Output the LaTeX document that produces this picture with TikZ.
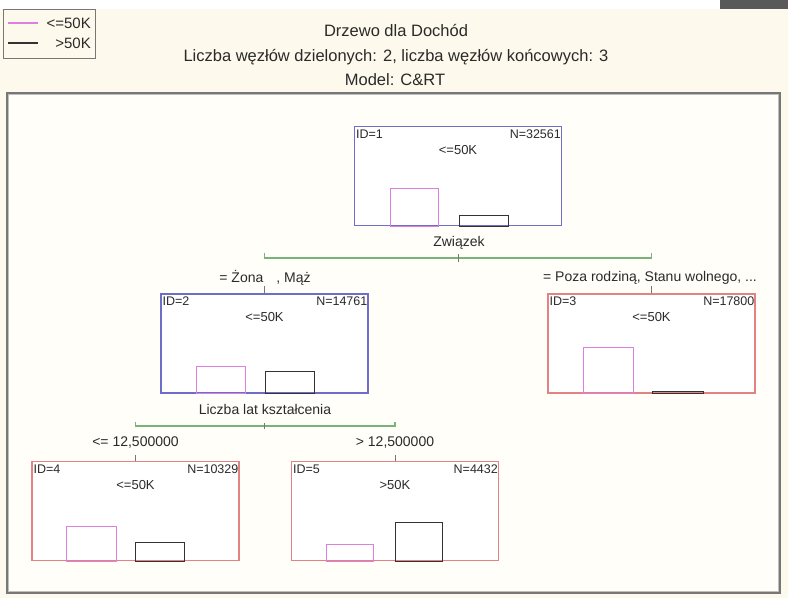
\documentclass[tikz,border=0pt]{standalone}
\usepackage{fontspec}
\setmainfont{Liberation Sans}
\definecolor{paper}{HTML}{FDF9EC}
\definecolor{panel}{HTML}{FFFEF9}
\definecolor{nodeblue}{HTML}{6E6EC8}
\definecolor{nodered}{HTML}{E38282}
\definecolor{barpink}{HTML}{DD80DD}
\definecolor{barblack}{HTML}{333333}
\definecolor{splitgreen}{HTML}{78B47A}
\definecolor{framegrey}{HTML}{777777}
\definecolor{inkgrey}{HTML}{2A2A2A}
\begin{document}
\begin{tikzpicture}[x=1pt,y=-1pt,
  every node/.style={text=inkgrey, inner sep=0pt},
  treenode/.style={draw, line width=1.1pt, fill=white, minimum width=207pt,
    minimum height=99pt, inner sep=0pt},
  splitnode/.style={treenode, draw=nodeblue},
  leafnode/.style={treenode, draw=nodered},
  idtext/.style={font=\fontsize{12.5}{14}\selectfont, anchor=west},
  ntext/.style={font=\fontsize{12.5}{14}\selectfont, anchor=east},
  classtext/.style={font=\fontsize{13}{15}\selectfont},
  lbl/.style={font=\fontsize{14}{16}\selectfont},
  legendtext/.style={font=\fontsize{15}{17}\selectfont, anchor=east},
  titletext/.style={font=\fontsize{16.5}{19}\selectfont},
  pinkbar/.style={draw=barpink, line width=1pt},
  blackbar/.style={draw=barblack, line width=1pt},
  bracket/.style={draw=splitgreen, line width=1.1pt},
  tick/.style={draw=framegrey, line width=0.8pt}]

% page, top strip and panel
\useasboundingbox (0,0) rectangle (788,598);
\fill[paper] (0,0) rectangle (788,598);
\fill[white] (0,0) rectangle (720,9);
\fill[black!65] (720,0) rectangle (788,9);
\fill[panel] (7,93) rectangle (780,593);
\draw[framegrey, line width=1.6pt] (7,93) rectangle (780,593);
\draw[black!25, line width=0.8pt] (8.6,94.6) rectangle (778.4,591.4);

% legend
\node[draw=framegrey, line width=1.2pt, minimum width=92pt, minimum height=49pt,
  anchor=north west] (legend) at (3,9) {};
\coordinate (lg1) at (8,23);
\coordinate (lg2) at (8,43);
\draw[barpink, line width=1.2pt] (lg1) -- ++(30,0);
\draw[barblack, line width=1.2pt] (lg2) -- ++(30,0);
\node[legendtext] (lgt1) at (91,23) {<=50K};
\node[legendtext] (lgt2) at (91,43) {>50K};

% titles
\node[titletext] (t1) at (396,31) {Drzewo dla Dochód};
\node[titletext] (t2) at (396,57) {Liczba węzłów dzielonych: 2, liczba węzłów końcowych: 3};
\node[titletext] (t3) at (395,80) {Model: C\&RT};

% tree nodes
\node[splitnode] (n1) at (458,176) {};
\node[splitnode] (n2) at (264.5,343.5) {};
\node[leafnode]  (n3) at (651.5,343.5) {};
\node[leafnode]  (n4) at (135.5,511) {};
\node[leafnode]  (n5) at (395,511) {};

% node captions
\foreach \n/\id/\N/\cls in {n1/1/32561/<=50K, n2/2/14761/<=50K, n3/3/17800/<=50K,
                          n4/4/10329/<=50K, n5/5/4432/>50K}{
  \node[idtext] (\n id) at ([shift={(2,8)}]\n.north west) {ID=\id};
  \node[ntext]  (\n N)  at ([shift={(-1,8)}]\n.north east) {N=\N};
  \node[classtext] (\n cls) at ([shift={(0,24)}]\n.north) {\cls};
}

% class histograms
\draw[pinkbar]  ([xshift=-68pt]n1.south) rectangle ++(48,-38);
\draw[blackbar] ([xshift=1pt]n1.south)   rectangle ++(49,-11);
\draw[pinkbar]  ([xshift=-68.5pt]n2.south) rectangle ++(49,-27);
\draw[blackbar] ([xshift=0.5pt]n2.south)   rectangle ++(49,-22);
\draw[pinkbar]  ([xshift=-68.5pt]n3.south) rectangle ++(50,-46);
\draw[blackbar] ([xshift=0.5pt]n3.south)   rectangle ++(51,-2);
\draw[pinkbar]  ([xshift=-69.5pt]n4.south) rectangle ++(50,-35);
\draw[blackbar] ([xshift=-0.5pt]n4.south)  rectangle ++(49,-19);
\draw[pinkbar]  ([xshift=-69pt]n5.south) rectangle ++(47,-17);
\draw[blackbar] ([xshift=0pt]n5.south)   rectangle ++(47,-39);

% first split
\node[lbl] (s1) at (459,243) {Związek};
\coordinate (b1l) at (n2.north |- 0,258);
\coordinate (b1r) at (n3.north |- 0,258);
\coordinate (b1c) at (n1.south |- 0,258);
\draw[bracket] ([yshift=5pt]b1l) -- (b1l) -- (b1r) -- ([yshift=5pt]b1r);
\draw[tick] ([yshift=-4pt]b1c) -- ([yshift=4pt]b1c);
\node[lbl] (e12) at (265,278) {= Żona\hspace{13pt}, Mąż};
\node[lbl] (e13) at (650,278) {= Poza rodziną, Stanu wolnego, ...};
\draw[tick] (n2.north) -- ++(0,-7);
\draw[tick] (n3.north) -- ++(0,-7);

% second split
\node[lbl] (s2) at (265,409) {Liczba lat kształcenia};
\coordinate (b2l) at (n4.north |- 0,426);
\coordinate (b2r) at (n5.north |- 0,426);
\coordinate (b2c) at (n2.south |- 0,426);
\draw[bracket] ([yshift=4pt]b2l) -- (b2l) -- (b2r) -- ([yshift=4pt]b2r);
\draw[tick] ([yshift=-3pt]b2c) -- ([yshift=3pt]b2c);
\node[lbl] (e24) at (135.5,443) {<= 12,500000};
\node[lbl] (e25) at (395,443) {> 12,500000};
\draw[tick] (n4.north) -- ++(0,-6);
\draw[tick] (n5.north) -- ++(0,-6);
\end{tikzpicture}
\end{document}
